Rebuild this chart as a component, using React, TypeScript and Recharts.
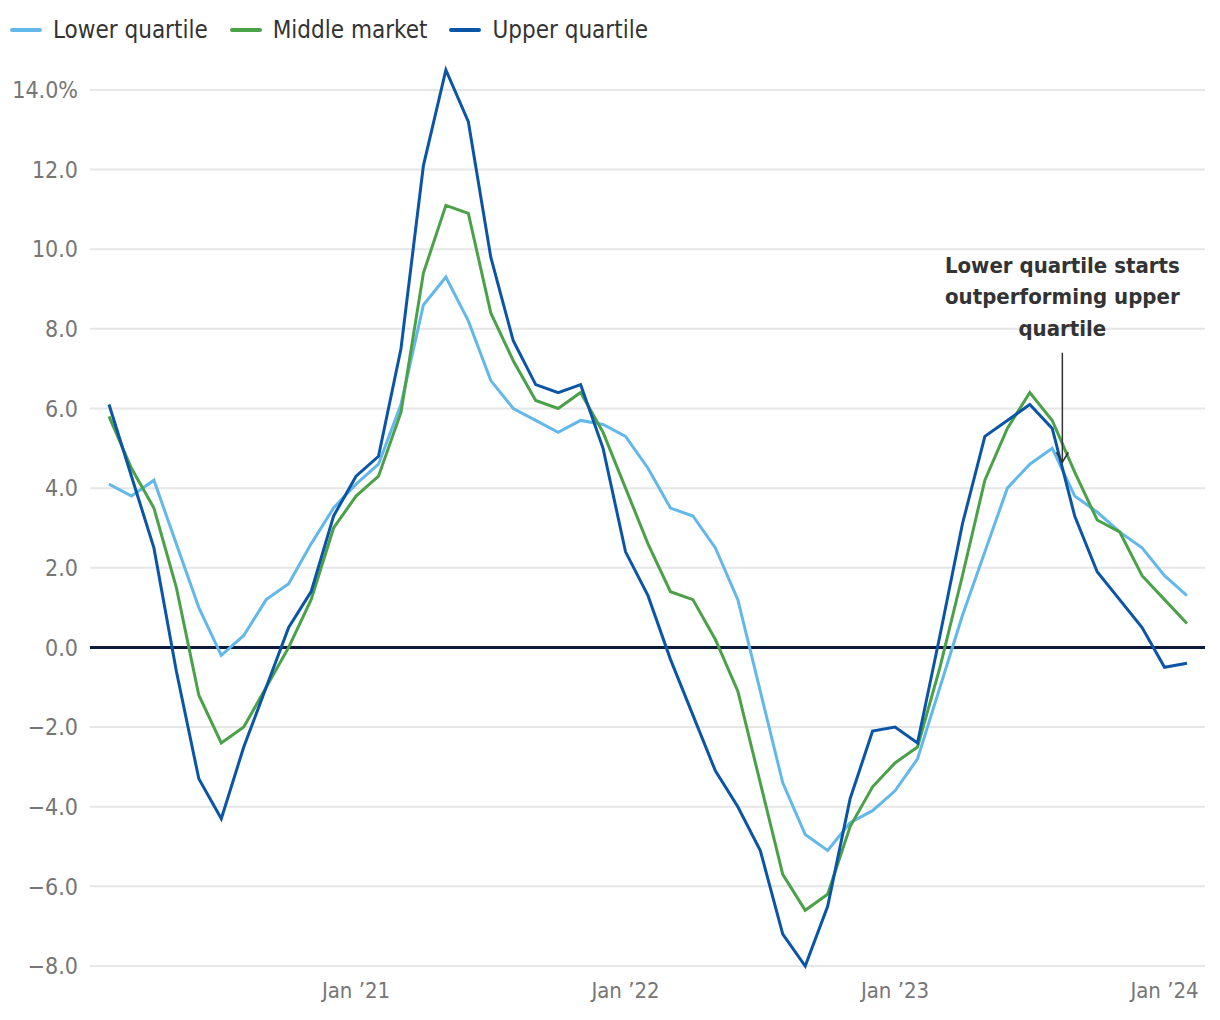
import { LineChart, Line, XAxis, YAxis, CartesianGrid, ReferenceLine } from 'recharts';

// Monthly house price growth by market segment, Feb 2020 - Feb 2024
const months = [
  'Feb 20', 'Mar 20', 'Apr 20', 'May 20', 'Jun 20', 'Jul 20', 'Aug 20', 'Sep 20', 'Oct 20', 'Nov 20', 'Dec 20',
  'Jan 21', 'Feb 21', 'Mar 21', 'Apr 21', 'May 21', 'Jun 21', 'Jul 21', 'Aug 21', 'Sep 21', 'Oct 21', 'Nov 21', 'Dec 21',
  'Jan 22', 'Feb 22', 'Mar 22', 'Apr 22', 'May 22', 'Jun 22', 'Jul 22', 'Aug 22', 'Sep 22', 'Oct 22', 'Nov 22', 'Dec 22',
  'Jan 23', 'Feb 23', 'Mar 23', 'Apr 23', 'May 23', 'Jun 23', 'Jul 23', 'Aug 23', 'Sep 23', 'Oct 23', 'Nov 23', 'Dec 23',
  'Jan 24', 'Feb 24',
];

const lowerQuartile = [
  4.1, 3.8, 4.2, 2.6, 1.0, -0.2, 0.3, 1.2, 1.6, 2.6, 3.5,
  4.1, 4.6, 6.1, 8.6, 9.3, 8.2, 6.7, 6.0, 5.7, 5.4, 5.7, 5.6,
  5.3, 4.5, 3.5, 3.3, 2.5, 1.2, -1.1, -3.4, -4.7, -5.1, -4.4, -4.1,
  -3.6, -2.8, -1.0, 0.8, 2.4, 4.0, 4.6, 5.0, 3.8, 3.4, 2.9, 2.5,
  1.8, 1.3,
];

const middleMarket = [
  5.8, 4.5, 3.5, 1.5, -1.2, -2.4, -2.0, -1.0, 0.0, 1.2, 3.0,
  3.8, 4.3, 5.9, 9.4, 11.1, 10.9, 8.4, 7.2, 6.2, 6.0, 6.4, 5.4,
  4.0, 2.6, 1.4, 1.2, 0.2, -1.1, -3.4, -5.7, -6.6, -6.2, -4.5, -3.5,
  -2.9, -2.5, -0.5, 1.8, 4.2, 5.5, 6.4, 5.7, 4.4, 3.2, 2.9, 1.8,
  1.2, 0.6,
];

const upperQuartile = [
  6.1, 4.3, 2.5, -0.6, -3.3, -4.3, -2.5, -1.0, 0.5, 1.4, 3.3,
  4.3, 4.8, 7.5, 12.1, 14.5, 13.2, 9.8, 7.7, 6.6, 6.4, 6.6, 5.0,
  2.4, 1.3, -0.3, -1.7, -3.1, -4.0, -5.1, -7.2, -8.0, -6.5, -3.8, -2.1,
  -2.0, -2.4, 0.3, 3.1, 5.3, 5.7, 6.1, 5.5, 3.3, 1.9, 1.2, 0.5,
  -0.5, -0.4,
];

const xTickMonths = ['Jan 21', 'Jan 22', 'Jan 23', 'Jan 24'];
const xTickLabels = ['Jan \u201921', 'Jan \u201922', 'Jan \u201923', 'Jan \u201924'];
const yTicks = [-8, -6, -4, -2, 0, 2, 4, 6, 8, 10, 12, 14];

const annotationText = ['Lower quartile starts', 'outperforming upper', 'quartile'];
// arrow sits between Aug 23 and Sep 23
const annotationX = 42.45;
const annotationTop = 7.4;
const annotationTip = 4.65;

const series = [
  { key: 'lower', name: 'Lower quartile', color: '#63b8ea' },
  { key: 'middle', name: 'Middle market', color: '#4aa147' },
  { key: 'upper', name: 'Upper quartile', color: '#0a55a5' },
];

const FONT = "'DejaVu Sans Condensed', 'Liberation Sans Narrow', 'DejaVu Sans', sans-serif";

const data = months.map((m, i) => ({
  idx: i,
  month: m,
  lower: lowerQuartile[i],
  middle: middleMarket[i],
  upper: upperQuartile[i],
}));

const xTicks = xTickMonths.map((m) => months.indexOf(m));
const yMax = Math.max(...upperQuartile, ...middleMarket, ...lowerQuartile);

function AnnotationArrow(props: any) {
  const { x1, y1, x2, y2 } = props;
  const lineGap = 31.5;
  return (
    <g>
      <line x1={x1} y1={y1} x2={x2} y2={y2} stroke="#333" strokeWidth={1.5} />
      <path
        d={`M${x2 - 6},${y2 - 10} L${x2},${y2} L${x2 + 6},${y2 - 10}`}
        fill="none"
        stroke="#333"
        strokeWidth={1.5}
      />
      <text
        x={x1}
        textAnchor="middle"
        fontFamily={FONT}
        fontWeight="bold"
        fontSize={22}
        fill="#333"
      >
        {annotationText.map((t, k) => (
          <tspan key={k} x={x1} y={y1 - 17 - (annotationText.length - 1 - k) * lineGap}>
            {t}
          </tspan>
        ))}
      </text>
    </g>
  );
}

export default function App() {
  return (
    <div
      style={{
        position: 'absolute',
        left: 0,
        top: 0,
        width: 1220,
        height: 1020,
        background: '#fff',
        fontFamily: FONT,
      }}
    >
      <div style={{ position: 'absolute', left: 10, top: 14, display: 'flex', alignItems: 'center' }}>
        {series.map((s) => (
          <div key={s.key} style={{ display: 'flex', alignItems: 'center', marginRight: 22 }}>
            <div style={{ width: 32, height: 4, borderRadius: 2, background: s.color, marginRight: 11 }} />
            <span style={{ fontSize: 24, color: '#333', lineHeight: '32px' }}>{s.name}</span>
          </div>
        ))}
      </div>
      <LineChart
        width={1220}
        height={1020}
        data={data}
        margin={{ top: 70, right: 15, bottom: 24, left: 0 }}
      >
        <CartesianGrid vertical={false} horizontalValues={yTicks} stroke="#e6e6e6" strokeWidth={2} />
        <XAxis
          dataKey="idx"
          type="number"
          domain={[0, months.length - 1]}
          ticks={xTicks}
          tickFormatter={(v) => xTickLabels[xTicks.indexOf(v)] ?? ''}
          padding={{ left: 19, right: 18 }}
          axisLine={false}
          tickLine={false}
          tickMargin={10}
          height={30}
          tick={{ fill: '#767676', fontSize: 22, fontFamily: FONT }}
        />
        <YAxis
          domain={[-8, yMax]}
          ticks={yTicks}
          interval={0}
          width={90}
          axisLine={false}
          tickLine={false}
          tickMargin={6}
          tickFormatter={(v) => (v === 14 ? `${v.toFixed(1)}%` : v < 0 ? `\u2212${Math.abs(v).toFixed(1)}` : v.toFixed(1))}
          tick={{ fill: '#767676', fontSize: 23, fontFamily: FONT }}
        />
        <ReferenceLine y={0} stroke="#0c1a3c" strokeWidth={3} />
        {series.map((s) => (
          <Line
            key={s.key}
            type="linear"
            dataKey={s.key}
            name={s.name}
            stroke={s.color}
            strokeWidth={3}
            dot={false}
            activeDot={false}
            isAnimationActive={false}
          />
        ))}
        <ReferenceLine
          segment={[
            { x: annotationX, y: annotationTop },
            { x: annotationX, y: annotationTip },
          ]}
          stroke="#333"
          shape={(p: any) => <AnnotationArrow {...p} />}
        />
      </LineChart>
    </div>
  );
}
